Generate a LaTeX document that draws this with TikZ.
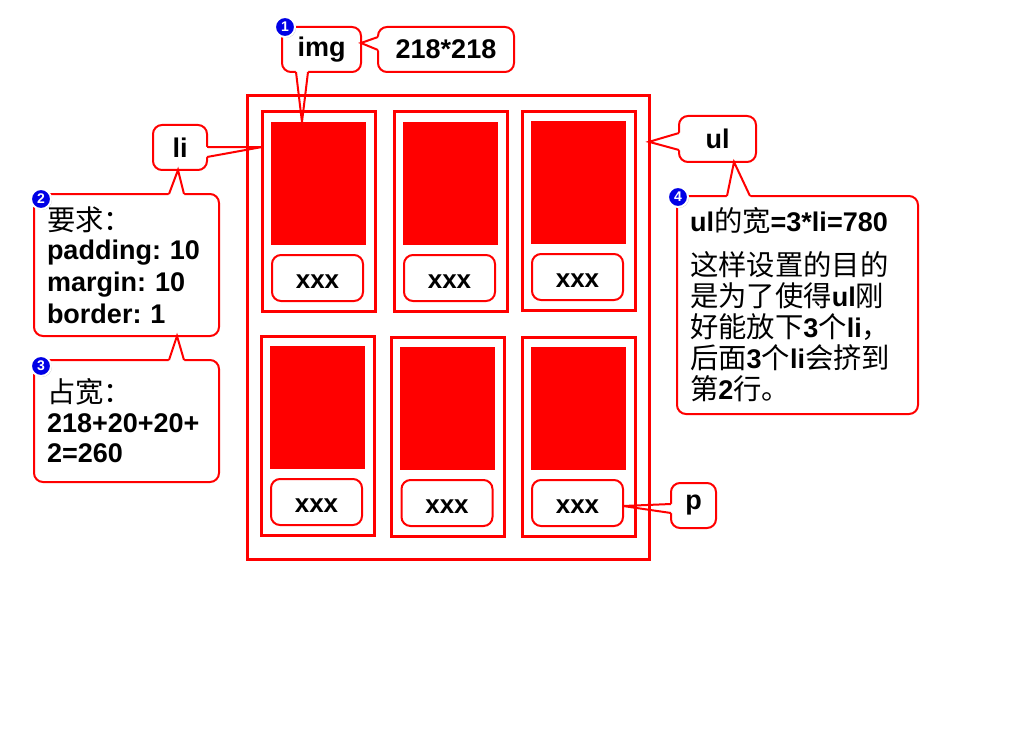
\documentclass[tikz,border=0pt]{standalone}
\usepackage{fontspec}
\setmainfont{Liberation Sans}
\newfontfamily\cjk[Scale=1.05]{Noto Sans CJK SC}
\usetikzlibrary{calc,shadows}
\newcommand\zh[1]{{\cjk\mdseries #1}}
\newcommand\ptr[3]{%
  \fill[white] ($(#1)!-3pt!(#2)$) -- ($(#1)!1.8pt!(#2)$) -- ($(#3)!1.8pt!(#2)$) -- ($(#3)!-3pt!(#2)$) -- cycle;
  \draw[ptrline] (#1) -- (#2) -- (#3);}
\definecolor{badgeblue}{RGB}{0,0,230}
\frenchspacing
\begin{document}
\begin{tikzpicture}[x=1pt,y=-1pt,
  ulbox/.style={draw=red, line width=3pt, outer sep=0pt, inner sep=0pt, minimum width=402pt, minimum height=463pt},
  libox/.style={draw=red, line width=3pt, outer sep=0pt, inner sep=0pt, minimum width=113pt, minimum height=199pt},
  imgbox/.style={fill=red, outer sep=0pt, inner sep=0pt, minimum width=95pt, minimum height=123pt},
  pbox/.style={draw=red, line width=2pt, rounded corners=9pt, fill=white, outer sep=0pt, inner sep=0pt, minimum width=91pt, minimum height=46pt, text height=20pt, text depth=0pt, font=\fontsize{26}{30}\selectfont\bfseries},
  callout/.style={draw=red, line width=2pt, rounded corners=9pt, fill=white, outer sep=0pt, inner sep=0pt, font=\fontsize{27}{32}\selectfont\bfseries},
  ptrline/.style={draw=red, line width=2pt, line join=miter},
  badge/.style={circle, fill=badgeblue, draw=white, line width=2pt, minimum size=20pt, inner sep=0pt, text=white, font=\fontsize{14}{14}\selectfont\bfseries, drop shadow={shadow xshift=1pt, shadow yshift=-1pt, opacity=0.4}}
]
\useasboundingbox[fill=white] (0,0) rectangle (1024,738);

% ul and li structure
\node[ulbox] (ul) at (448,327.5) {};
\node[libox] (li1) at (318.5,211.5) {};
\node[libox] (li2) at (450.5,211.5) {};
\node[libox] (li3) at (578.5,211) {};
\node[libox] (li4) at (317.5,435.5) {};
\node[libox] (li5) at (447.5,437) {};
\node[libox] (li6) at (578.5,437) {};
\node[imgbox] (img1) at (318.5,183.5) {};
\node[imgbox] (img2) at (450.5,183.5) {};
\node[imgbox] (img3) at (578.5,182.5) {};
\node[imgbox] (img4) at (317.5,407.5) {};
\node[imgbox] (img5) at (447.5,408.5) {};
\node[imgbox] (img6) at (578.5,408.5) {};
\node[pbox] (p1) at (317.5,278) {xxx};
\node[pbox] (p2) at (449.5,278) {xxx};
\node[pbox] (p3) at (577.5,277) {xxx};
\node[pbox] (p4) at (316.5,502) {xxx};
\node[pbox] (p5) at (447,503) {xxx};
\node[pbox] (p6) at (577.5,503) {xxx};

% callouts
\node[callout, minimum width=79pt, minimum height=45pt] (imgc) at (321.5,49.5) {img};
\node[callout, minimum width=136pt, minimum height=45pt] (sizec) at (446,49.5) {218*218};
\node[callout, minimum width=54pt, minimum height=45pt] (lic) at (180,147.5) {li};
\node[callout, minimum width=185pt, minimum height=142pt, inner xsep=13pt, text width=159pt, align=left] (req) at (126.5,265)
  {\zh{要求：}\\[-3pt] padding: 10\\ margin: 10\\ border: 1};
\node[callout, minimum width=185pt, minimum height=122pt, inner xsep=13pt, text width=159pt, align=left] (occ) at (126.5,421)
  {\zh{占宽：}\\[-2pt] 218+20+20+\\[-2pt] 2=260};
\node[callout, minimum width=77pt, minimum height=46pt] (ulc) at (717.5,139) {ul};
\node[callout, minimum width=241pt, minimum height=218pt, inner xsep=13pt, text width=215pt, align=left, font=\fontsize{27}{31}\selectfont\bfseries] (why) at (797.5,305)
  {ul\zh{的宽}=3*li=780\\[13pt]
   \zh{这样设置的目的}\\
   \zh{是为了使得}ul\zh{刚}\\
   \zh{好能放下}3\zh{个}li\zh{，}\\
   \zh{后面}3\zh{个}li\zh{会挤到}\\
   \zh{第}2\zh{行。}};
\node[callout, minimum width=45pt, minimum height=45pt] (pc) at (693.5,505.5) {p};

% pointers
\coordinate (a1) at ($(imgc.south)+(-25.5,0)$);
\coordinate (a2) at ($(imgc.south)+(-13.5,0)$);
\coordinate (at) at ($(img1.north west)!0.326!(img1.north east)$);
\ptr{a1}{at}{a2}

\coordinate (b1) at ($(sizec.west)+(0,-12.5)$);
\coordinate (b2) at ($(sizec.west)+(0,0.5)$);
\coordinate (bt) at ($(imgc.east)+(0,-6.5)$);
\ptr{b1}{bt}{b2}

\coordinate (c1) at ($(lic.east)+(0,-0.5)$);
\coordinate (c2) at ($(lic.east)+(0,9.5)$);
\coordinate (ct) at ($(li1.north west)!0.176!(li1.south west)$);
\ptr{c1}{ct}{c2}

\coordinate (d1) at ($(req.north)+(42.5,0)$);
\coordinate (d2) at ($(req.north)+(57.5,0)$);
\coordinate (dt) at ($(lic.south)+(-2,0)$);
\ptr{d1}{dt}{d2}

\coordinate (e1) at ($(occ.north)+(42.5,0)$);
\coordinate (e2) at ($(occ.north)+(57.5,0)$);
\coordinate (et) at ($(req.south)+(50.5,0)$);
\ptr{e1}{et}{e2}

\coordinate (f1) at ($(ulc.west)+(0,-6)$);
\coordinate (f2) at ($(ulc.west)+(0,11)$);
\coordinate (ft) at ($(ul.north east)!0.099!(ul.south east)$);
\ptr{f1}{ft}{f2}

\coordinate (g1) at ($(why.north)+(-70.5,0)$);
\coordinate (g2) at ($(why.north)+(-47.5,0)$);
\coordinate (gt) at ($(ulc.south)+(16.5,0)$);
\ptr{g1}{gt}{g2}

\coordinate (h1) at ($(pc.west)+(0,-1.5)$);
\coordinate (h2) at ($(pc.west)+(0,7.5)$);
\coordinate (ht) at ($(p6.east)+(0,3)$);
\ptr{h1}{ht}{h2}

% badges
\node[badge] (n1) at (285,27) {1};
\node[badge] (n2) at (41,199) {2};
\node[badge] (n3) at (41,366) {3};
\node[badge] (n4) at (678,197) {4};
\end{tikzpicture}
\end{document}
